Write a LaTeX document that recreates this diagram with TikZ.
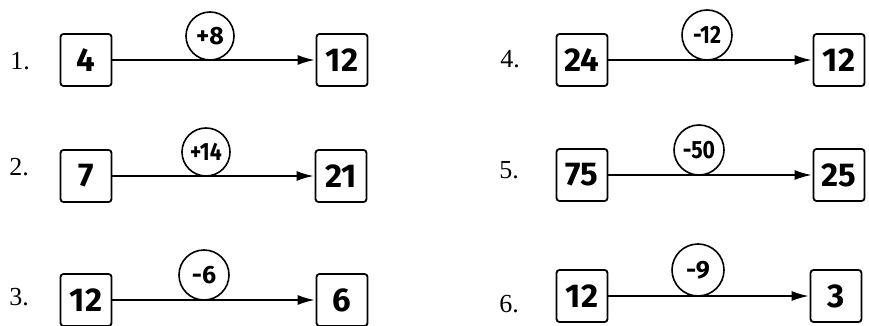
\documentclass[tikz,border=0pt]{standalone}
\usepackage{fontspec}
\setmainfont{Liberation Serif}
\newfontfamily\handfont{Fira Sans}
\usetikzlibrary{arrows.meta}
\tikzset{
  numbox/.style={draw, rounded corners=3pt, line width=1.8pt, minimum width=51pt, minimum height=52pt, inner sep=0pt, font=\handfont\bfseries\fontsize{33}{33}\selectfont},
  opcirc/.style={draw, circle, line width=1.6pt, minimum size=#1, inner sep=0pt, font=\handfont\bfseries\fontsize{25}{25}\selectfont},
  opcirc/.default=48pt,
  rowlabel/.style={font=\fontsize{26}{26}\selectfont, inner sep=0pt},
  link/.style={line width=1.6pt, -{Latex[length=17pt,width=10pt]}, shorten >=1pt}
}
\begin{document}
\begin{tikzpicture}[x=1pt,y=-1pt]
\useasboundingbox (0,0) rectangle (869,326);
% row 1
\node[rowlabel] (l1) at (20,61) {1.};
\node[numbox] (a1) at (86,60) {4};
\node[numbox] (b1) at (342,60) {12};
\draw[link] (a1) -- (b1);
\node[opcirc=48pt] (c1) at (210,36) {+8};
% row 2
\node[rowlabel] (l2) at (19,167) {2.};
\node[numbox] (a2) at (86,176) {7};
\node[numbox] (b2) at (341,176) {21};
\draw[link] (a2) -- (b2);
\node[opcirc=48pt] (c2) at (206,152) {\scalebox{0.85}[1]{+14}};
% row 3
\node[rowlabel] (l3) at (19,297) {3.};
\node[numbox] (a3) at (86,300) {12};
\node[numbox] (b3) at (342,300) {6};
\draw[link] (a3) -- (b3);
\node[opcirc=50pt] (c3) at (204,275) {-6};
% row 4
\node[rowlabel] (l4) at (510,59) {4.};
\node[numbox] (a4) at (582,60) {24};
\node[numbox] (b4) at (839,60) {12};
\draw[link] (a4) -- (b4);
\node[opcirc=50pt] (c4) at (707,35) {\scalebox{0.85}[1]{-12}};
% row 5
\node[rowlabel] (l5) at (509,170) {5.};
\node[numbox] (a5) at (582,175) {75};
\node[numbox] (b5) at (839,175) {25};
\draw[link] (a5) -- (b5);
\node[opcirc=50pt] (c5) at (699,150) {\scalebox{0.85}[1]{-50}};
% row 6
\node[rowlabel] (l6) at (509,304) {6.};
\node[numbox] (a6) at (582,296) {12};
\node[numbox] (b6) at (836,296) {3};
\draw[link] (a6) -- (b6);
\node[opcirc=52pt] (c6) at (698,270) {-9};
\end{tikzpicture}
\end{document}
